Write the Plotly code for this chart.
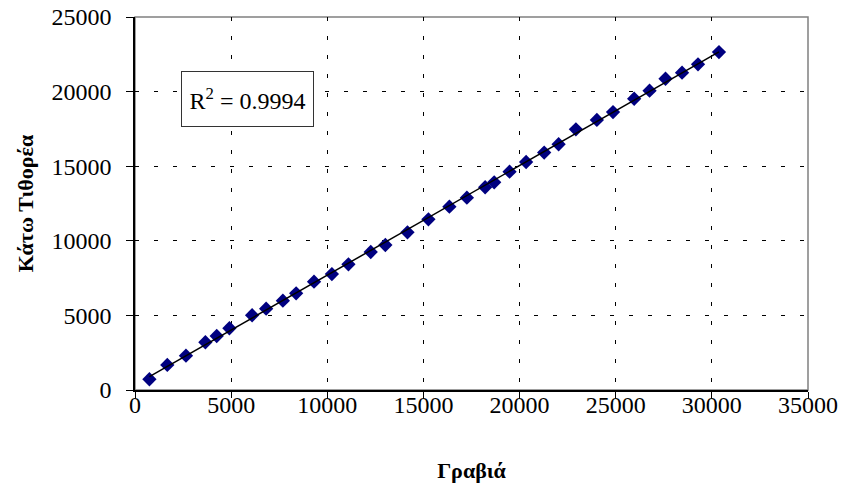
import numpy as np
import plotly.graph_objects as go

# Data
gravia = [750, 1680, 2650, 3660, 4250, 4910, 6090, 6820, 7690, 8380,
          9310, 10240, 11100, 12260, 13020, 14170, 15260, 16350, 17260, 18210,
          18680, 19480, 20340, 21280, 22030, 22930, 24020, 24860, 25960, 26760,
          27590, 28450, 29280, 30370]
kato_tithorea = [720, 1680, 2300, 3200, 3620, 4140, 5010, 5450, 5990, 6480,
                 7260, 7770, 8420, 9250, 9720, 10570, 11440, 12290, 12890, 13590,
                 13920, 14630, 15280, 15910, 16470, 17470, 18100, 18630, 19520, 20060,
                 20860, 21270, 21830, 22650]
x_ticks = [0, 5000, 10000, 15000, 20000, 25000, 30000, 35000]
y_ticks = [0, 5000, 10000, 15000, 20000, 25000]
r2_text = "R<sup>2</sup> = 0.9994"

xa = np.array(gravia, dtype=float)
ya = np.array(kato_tithorea, dtype=float)
slope, intercept = np.polyfit(xa, ya, 1)
trend_x = [xa.min(), xa.max()]
trend_y = [slope * v + intercept for v in trend_x]

FONT = "Liberation Serif, Times New Roman, serif"

fig = go.Figure()
fig.add_trace(go.Scatter(x=gravia, y=kato_tithorea, mode="markers",
                         marker=dict(symbol="diamond", size=11, color="#000080",
                                     line=dict(width=0)),
                         showlegend=False))
fig.add_trace(go.Scatter(x=trend_x, y=trend_y, mode="lines",
                         line=dict(color="black", width=1.5), showlegend=False))

fig.add_shape(type="rect", xref="paper", yref="paper", x0=0, x1=1, y0=0, y1=1,
              line=dict(color="#808080", width=1.5), layer="below")

fig.add_annotation(xref="paper", yref="paper", x=0.1672, y=0.7815,
                   text=r2_text, showarrow=False,
                   font=dict(family=FONT, size=24, color="black"),
                   bordercolor="#333333", borderwidth=1, borderpad=4,
                   width=123, height=46, bgcolor="white",
                   xanchor="center", yanchor="middle")

fig.update_layout(
    width=847, height=495,
    margin=dict(l=135, r=39, t=17, b=105, autoexpand=False),
    paper_bgcolor="white", plot_bgcolor="white",
    font=dict(family=FONT, size=24, color="black"),
    xaxis=dict(range=[0, 35000], tickvals=x_ticks, ticktext=[str(v) for v in x_ticks],
               showgrid=True, gridcolor="black", griddash="4px,15px", gridwidth=1,
               showline=True, linecolor="black", linewidth=1.5,
               ticks="outside", ticklen=6, tickcolor="black",
               zeroline=False, ticklabelstandoff=-14, automargin=False,
               title=dict(text="Γραβιά",
                          font=dict(family=FONT, size=22, weight="bold"), standoff=46)),
    yaxis=dict(range=[0, 25000], tickvals=y_ticks, ticktext=[str(v) for v in y_ticks],
               showgrid=True, gridcolor="black", griddash="4px,15px", gridwidth=1,
               showline=True, linecolor="black", linewidth=1.5,
               ticks="outside", ticklen=7, tickcolor="black",
               zeroline=False, ticklabelstandoff=10, automargin=False,
               title=dict(text="Κάτω Τιθορέα",
                          font=dict(family=FONT, size=22, weight="bold"), standoff=12)),
)

fig.write_html("out.html", post_script="document.body.style.margin='0';",
               config={"displayModeBar": False})
